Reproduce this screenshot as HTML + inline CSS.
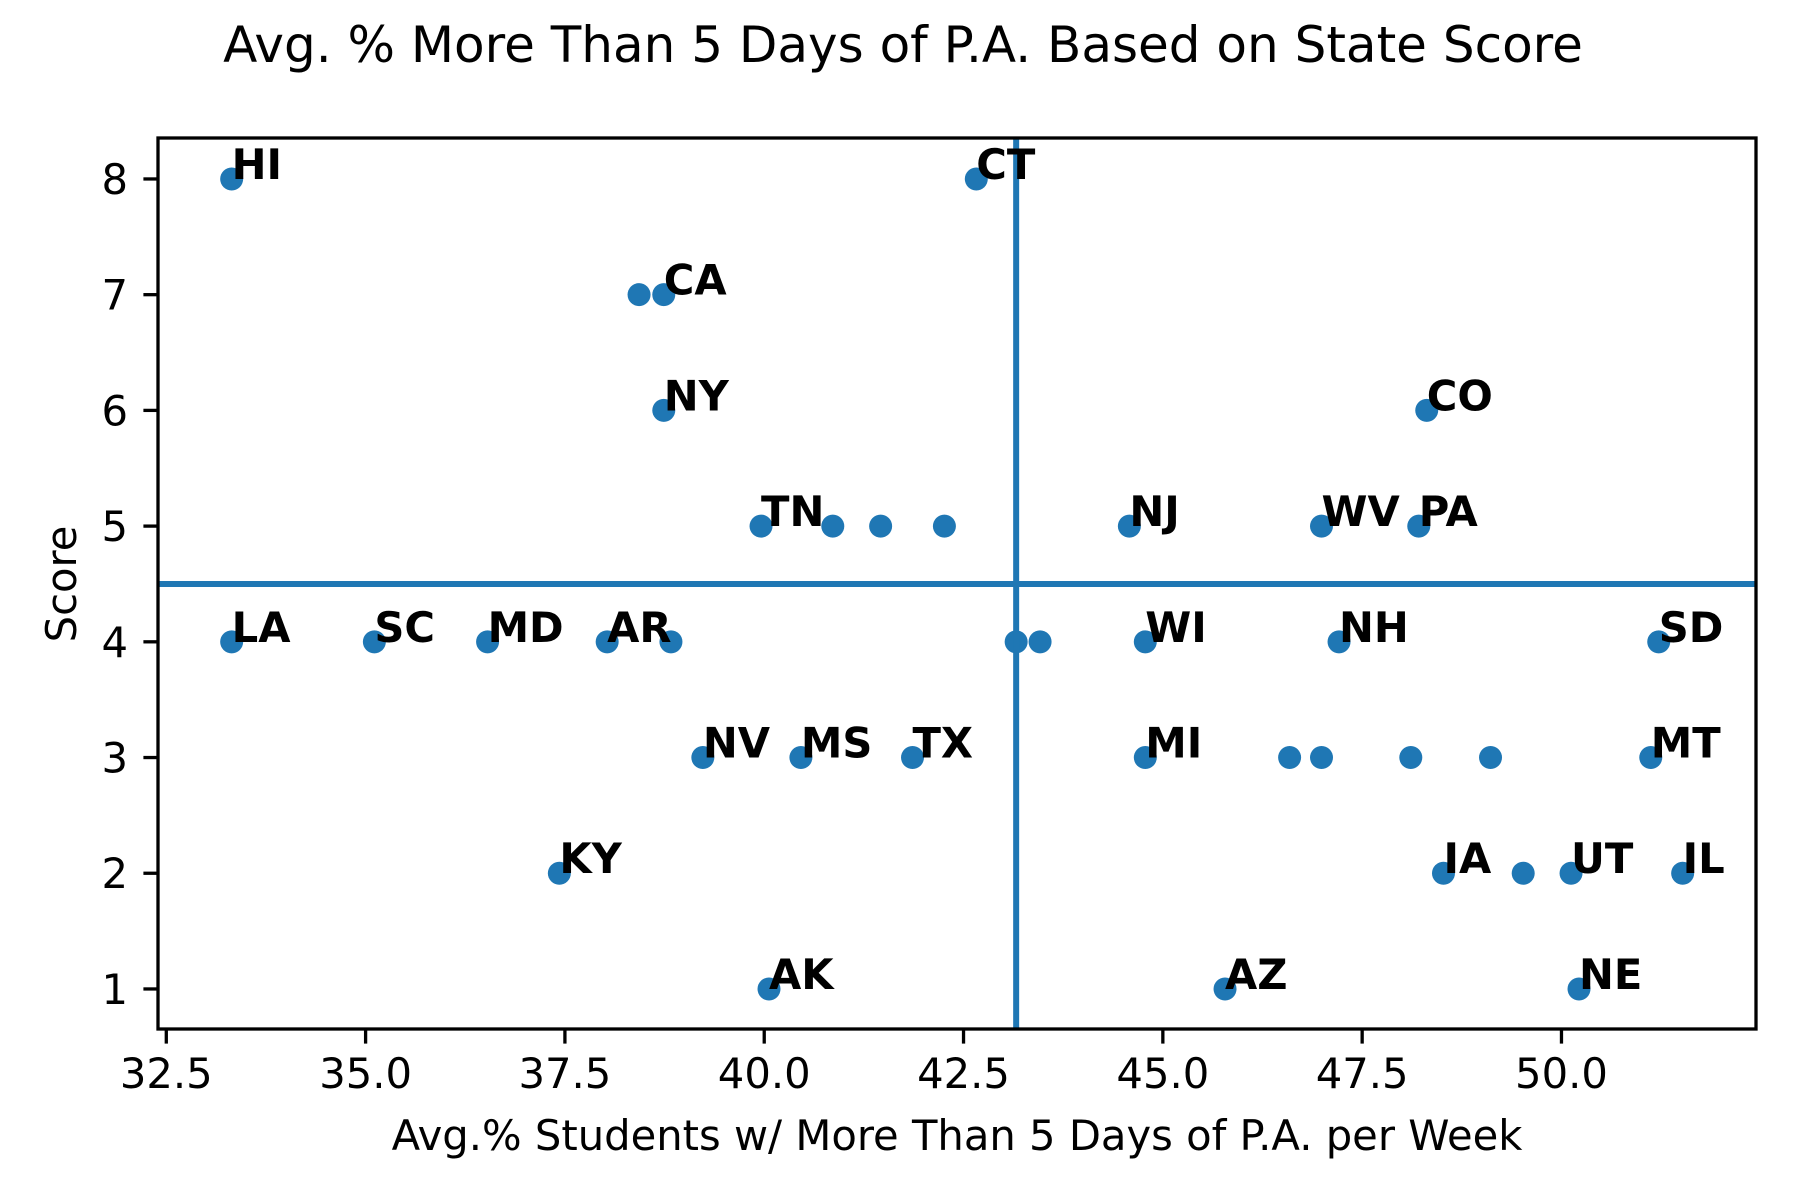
<!DOCTYPE html>
<html><head><meta charset="utf-8"><style>
html,body{margin:0;padding:0;background:#fff;}
svg{display:block;font-family:"DejaVu Sans","Liberation Sans",sans-serif;}
</style></head><body>
<svg id="chart" width="1800" height="1200" viewBox="0 0 1800 1200" xmlns="http://www.w3.org/2000/svg">
<rect width="1800" height="1200" fill="#fff"/>
<text x="903" y="62" font-size="50" text-anchor="middle">Avg. % More Than 5 Days of P.A. Based on State Score</text>
<text x="957" y="1150" font-size="41.7" text-anchor="middle">Avg.% Students w/ More Than 5 Days of P.A. per Week</text>
<text transform="translate(76,584) rotate(-90)" font-size="41.7" text-anchor="middle">Score</text>
<g id="plot"></g>
</svg>
<script>
const xs = [33.32,42.66,38.43,38.74,38.74,48.31,39.96,40.86,41.46,42.26,44.58,46.99,48.21,33.32,35.11,36.53,38.03,38.83,43.16,43.46,44.78,47.21,51.22,39.23,40.46,41.86,44.78,46.59,46.99,48.11,49.11,51.12,37.43,48.52,49.52,50.12,51.52,40.06,45.78,50.22];
const ys = [8,8,7,7,6,6,5,5,5,5,5,5,5,4,4,4,4,4,4,4,4,4,4,3,3,3,3,3,3,3,3,3,2,2,2,2,2,1,1,1];
const labels = ["HI","CT","","CA","NY","CO","TN","","","","NJ","WV","PA","LA","SC","MD","AR","","","","WI","NH","SD","NV","MS","TX","MI","","","","","MT","KY","IA","","UT","IL","AK","AZ","NE"];
const xTicks = [32.5,35.0,37.5,40.0,42.5,45.0,47.5,50.0];
const yTicks = [1,2,3,4,5,6,7,8];
const vLineX = [43.16];
const hLineY = [4.5];

const L=158,R=1756,T=138,B=1029;
const xMin=32.396,xMax=52.44,yMin=0.654,yMax=8.354;
const sx=v=>L+(v-xMin)/(xMax-xMin)*(R-L);
const sy=v=>B-(v-yMin)/(yMax-yMin)*(B-T);
const NS="http://www.w3.org/2000/svg";
const g=document.getElementById('plot');
function mk(tag,attrs,parent){const e=document.createElementNS(NS,tag);for(const k in attrs)e.setAttribute(k,attrs[k]);(parent||g).appendChild(e);return e;}

for(let i=0;i<xs.length;i++){
  const c=mk('circle',{cx:sx(xs[i]),cy:sy(ys[i]),r:11.5,fill:'#1f77b4'});
  
  
}
vLineX.forEach(v=>{
  const l=mk('line',{x1:sx(v),x2:sx(v),y1:T,y2:B,stroke:'#1f77b4','stroke-width':6});
  
  
});
hLineY.forEach(v=>{
  const l=mk('line',{x1:L,x2:R,y1:sy(v),y2:sy(v),stroke:'#1f77b4','stroke-width':6});
  
  
});
for(let i=0;i<xs.length;i++){
  if(!labels[i])continue;
  const t=mk('text',{x:sx(xs[i]),y:sy(ys[i]),'font-size':41.7,'font-weight':'bold'});
  t.textContent=labels[i];
  
  
}
const frame=mk('rect',{x:L,y:T,width:R-L,height:B-T,fill:'none',stroke:'#000','stroke-width':3.3});


xTicks.forEach(v=>{
  const tk=mk('line',{x1:sx(v),x2:sx(v),y1:B,y2:B+14.6,stroke:'#000','stroke-width':3.3});
  
  
  const t=mk('text',{x:sx(v),y:1088,'font-size':41.7,'text-anchor':'middle'});
  t.textContent=v.toFixed(1);
  
  
});
yTicks.forEach(v=>{
  const tk=mk('line',{x1:L-14.6,x2:L,y1:sy(v),y2:sy(v),stroke:'#000','stroke-width':3.3});
  
  
  const t=mk('text',{x:128,y:sy(v)+15,'font-size':41.7,'text-anchor':'end'});
  t.textContent=String(v);
  
  
});
</script>
</body></html>
